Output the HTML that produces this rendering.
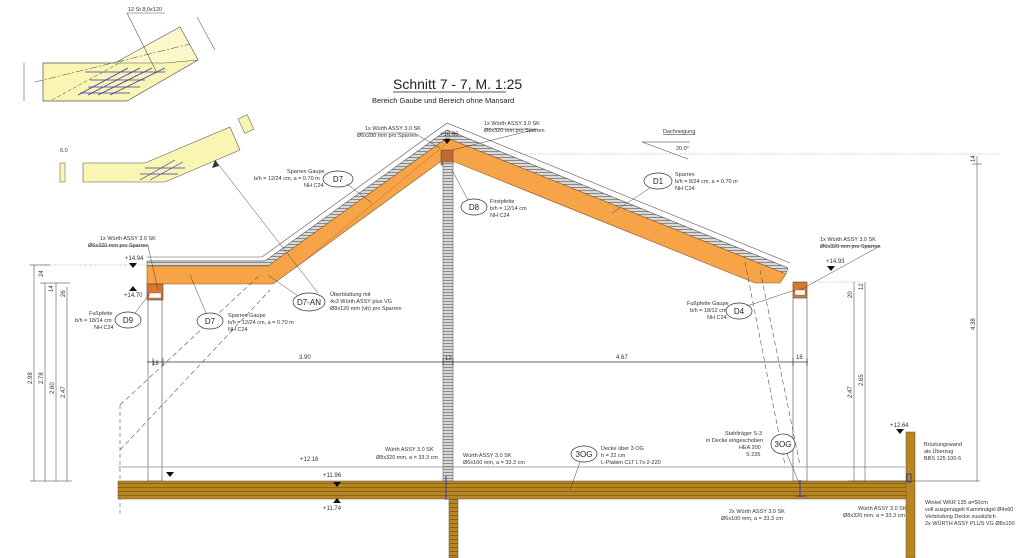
<!DOCTYPE html>
<html><head><meta charset="utf-8"><style>
html,body{margin:0;padding:0;background:#fff;}
svg{display:block;font-family:"Liberation Sans",sans-serif;}
.t{font-size:5.5px;fill:#333}
.d{font-size:6px;fill:#333}
</style></head><body>
<svg width="1024" height="558" viewBox="0 0 1024 558" xmlns="http://www.w3.org/2000/svg">
<defs>
<pattern id="hat" width="4" height="3" patternUnits="userSpaceOnUse"><rect width="4" height="3" fill="#d8d8d8"/><line x1="0" y1="1.5" x2="4" y2="1.5" stroke="#777" stroke-width="0.8"/></pattern>
<pattern id="wood" width="10" height="4" patternUnits="userSpaceOnUse"><rect width="10" height="4" fill="#b8861e"/><line x1="0" y1="3.5" x2="10" y2="3.5" stroke="#7a5510" stroke-width="0.7"/></pattern>
</defs>

<!-- top-left detail -->
<polygon points="43,63 115,63 180,27 198,60 127,101 43,101" fill="#fbf5b4" stroke="#555" stroke-width="0.7"/>
<polygon points="115,63 180,27 198,60 165,63" fill="#fdf8cc" stroke="#555" stroke-width="0.5"/>
<line x1="35" y1="82" x2="190" y2="44" stroke="#444" stroke-width="0.5" stroke-dasharray="8,2,2,2"/>
<line x1="52" y1="100" x2="123" y2="61" stroke="#444" stroke-width="0.5" stroke-dasharray="4,2"/>
<g stroke="#3a3aaa" stroke-width="0.8">
<line x1="78" y1="95" x2="128" y2="68"/><line x1="88" y1="95" x2="140" y2="68"/><line x1="98" y1="95" x2="152" y2="68"/><line x1="110" y1="95" x2="165" y2="68"/>
<line x1="85" y1="72" x2="165" y2="72"/><line x1="90" y1="80" x2="145" y2="80"/><line x1="88" y1="87" x2="140" y2="87"/><line x1="80" y1="93" x2="130" y2="93"/>
</g>
<line x1="127" y1="13" x2="165" y2="13" stroke="#555" stroke-width="0.6"/>
<line x1="127" y1="13" x2="157" y2="73" stroke="#555" stroke-width="0.6"/>
<text x="128" y="11" class="t" font-size="4">12 St 8,0x120</text>
<line x1="24" y1="63" x2="24" y2="101" stroke="#333" stroke-width="0.5"/>
<line x1="197" y1="17" x2="215" y2="50" stroke="#333" stroke-width="0.5"/>

<!-- second detail -->
<polygon points="83,163 145,163 230,127 240,150 165,182 83,182" fill="#fbf5b4" stroke="#555" stroke-width="0.6"/>
<g stroke="#3a3aaa" stroke-width="0.7"><line x1="140" y1="180" x2="175" y2="160"/><line x1="150" y1="180" x2="183" y2="162"/><line x1="145" y1="168" x2="185" y2="168"/><line x1="140" y1="174" x2="178" y2="174"/></g>
<rect x="60" y="163" width="5" height="19" fill="#fbf5b4" stroke="#555" stroke-width="0.5"/>
<rect x="241" y="116" width="10" height="16" fill="#fbf5b4" stroke="#555" stroke-width="0.5" transform="rotate(-25 246 124)"/>
<text x="60" y="152" class="t" font-size="4">6.0</text>

<!-- title -->
<text x="393" y="89" font-size="14" fill="#222">Schnitt 7 - 7, M. 1:25</text>
<line x1="393" y1="92" x2="506" y2="92" stroke="#222" stroke-width="0.7"/>
<text x="372" y="103" font-size="7.5" fill="#222">Bereich Gaube und Bereich ohne Mansard</text>

<!-- dotted levels -->
<line x1="455" y1="154" x2="1000" y2="154" stroke="#777" stroke-width="0.6" stroke-dasharray="1,1.5"/>
<line x1="30" y1="265" x2="147" y2="265" stroke="#777" stroke-width="0.6" stroke-dasharray="1,1.5"/>
<line x1="810" y1="282" x2="860" y2="282" stroke="#777" stroke-width="0.6" stroke-dasharray="1,1.5"/>

<!-- roof white outer layers -->
<polyline points="147,257 262,257 447,123 790,263" fill="none" stroke="#555" stroke-width="0.6"/>
<polyline points="147,261 265,261 447,130 788,268" fill="none" stroke="#555" stroke-width="0.6"/>
<!-- grey insulation -->
<polygon points="147,261 265,261 447,130 788,268 786,274 447,138 268,266 147,266" fill="url(#hat)" stroke="#555" stroke-width="0.5"/>
<!-- orange rafters -->
<polygon points="147,266 268,266 447,138 786,274 780,283 755,283 455,162 440,162 273,284 147,284" fill="#f7a348" stroke="#8a5a20" stroke-width="0.6"/>
<line x1="298" y1="266" x2="447" y2="143" stroke="#a0602a" stroke-width="0.4"/>

<!-- pfetten -->
<rect x="147" y="284" width="16" height="16" fill="#d9782c" stroke="#444" stroke-width="0.6"/>
<rect x="149" y="293" width="12" height="5" fill="#fff" stroke="#666" stroke-width="0.4"/>
<rect x="793" y="282" width="14" height="16" fill="#d9782c" stroke="#444" stroke-width="0.6"/>
<rect x="795" y="290" width="10" height="5" fill="#fff" stroke="#666" stroke-width="0.4"/>
<rect x="441" y="150" width="12" height="15" fill="#c06a30" stroke="#444" stroke-width="0.5"/>

<!-- central wall -->
<rect x="443" y="162" width="10" height="319" fill="url(#hat)" stroke="#666" stroke-width="0.6"/>
<rect x="449" y="498" width="9" height="60" fill="url(#wood)" stroke="#555" stroke-width="0.5"/>

<!-- posts -->
<rect x="148" y="300" width="14" height="181" fill="#fff" stroke="#666" stroke-width="0.7"/>
<rect x="793" y="298" width="14" height="183" fill="#fff" stroke="#666" stroke-width="0.7"/>

<!-- dashed lines -->
<g stroke="#555" stroke-width="0.6" stroke-dasharray="5,3" fill="none">
<line x1="120" y1="405" x2="260" y2="275"/><line x1="120" y1="450" x2="270" y2="290"/>
<line x1="745" y1="262" x2="785" y2="465"/><line x1="760" y1="270" x2="800" y2="465"/>
</g>
<line x1="120" y1="405" x2="120" y2="515" stroke="#555" stroke-width="0.6" stroke-dasharray="4,3"/>

<!-- floor -->
<line x1="118" y1="467" x2="905" y2="467" stroke="#888" stroke-width="0.8"/>
<rect x="118" y="481" width="789" height="18" fill="url(#wood)" stroke="#555" stroke-width="0.5"/>
<!-- parapet -->
<rect x="906" y="432" width="9" height="126" fill="#b8861e" stroke="#555" stroke-width="0.5"/>

<!-- dimension line -->
<line x1="147" y1="362" x2="808" y2="362" stroke="#333" stroke-width="0.7"/>
<g stroke="#333" stroke-width="0.6"><line x1="153" y1="358" x2="153" y2="366"/><line x1="163" y1="358" x2="163" y2="366"/><line x1="443" y1="358" x2="443" y2="366"/><line x1="453" y1="358" x2="453" y2="366"/><line x1="793" y1="358" x2="793" y2="366"/><line x1="807" y1="358" x2="807" y2="366"/></g>
<text x="299" y="359" class="d">3.90</text><text x="616" y="359" class="d">4.67</text>
<text x="152" y="365" class="d" font-size="5">18</text><text x="445" y="360" class="d" font-size="5">12</text><text x="796" y="359" class="d" font-size="5">18</text>

<!-- left vertical dims -->
<g stroke="#333" stroke-width="0.5">
<line x1="34" y1="265" x2="34" y2="481"/><line x1="45" y1="283" x2="45" y2="481"/><line x1="56" y1="283" x2="56" y2="481"/><line x1="67" y1="287" x2="67" y2="481"/>
<line x1="30" y1="481" x2="72" y2="481"/><line x1="30" y1="265" x2="50" y2="265"/><line x1="40" y1="283" x2="70" y2="283"/>
</g>
<g class="d" font-size="5">
<text transform="translate(32 384) rotate(-90)">2.98</text><text transform="translate(43 384) rotate(-90)">2.78</text>
<text transform="translate(54 394) rotate(-90)">2.60</text><text transform="translate(65 398) rotate(-90)">2.47</text>
<text transform="translate(43 277) rotate(-90)">24</text><text transform="translate(53 292) rotate(-90)">14</text><text transform="translate(65 297) rotate(-90)">26</text>
</g>

<!-- right vertical dims -->
<g stroke="#333" stroke-width="0.5">
<line x1="977" y1="156" x2="977" y2="481"/><line x1="972" y1="164" x2="982" y2="164"/>
<line x1="854" y1="282" x2="854" y2="481"/><line x1="865" y1="282" x2="865" y2="481"/><line x1="848" y1="481" x2="980" y2="481"/>
</g>
<g class="d" font-size="5">
<text transform="translate(975 330) rotate(-90)">4.38</text><text transform="translate(975 162) rotate(-90)">14</text>
<text transform="translate(852 398) rotate(-90)">2.47</text><text transform="translate(863 386) rotate(-90)">2.65</text>
<text transform="translate(852 298) rotate(-90)">20</text><text transform="translate(863 290) rotate(-90)">12</text>
</g>

<!-- level markers -->
<g fill="#111">
<polygon points="129,263 137,263 133,268"/><polygon points="129,291 137,291 133,286"/>
<polygon points="443,139 451,139 447,144"/>
<polygon points="827,266 835,266 831,271"/>
<polygon points="166,472 174,472 170,477"/>
<polygon points="333,482 341,482 337,487"/><polygon points="333,503 341,503 337,498"/>
<polygon points="896,429 904,429 900,434"/>
</g>
<g class="d" font-size="5.5">
<text x="125" y="260">+14.94</text><text x="124" y="297">+14.70</text>
<text x="440" y="136">+16.66</text><text x="826" y="263">+14.93</text>
<text x="300" y="461">+12.16</text><text x="323" y="477">+11.96</text><text x="323" y="510">+11.74</text>
<text x="890" y="427">+12.64</text>
</g>

<!-- dachneigung -->
<text x="663" y="133" class="t" text-decoration="underline">Dachneigung</text>
<line x1="642" y1="142" x2="690" y2="142" stroke="#333" stroke-width="0.5"/>
<line x1="642" y1="142" x2="688" y2="159" stroke="#333" stroke-width="0.5"/>
<text x="676" y="150" class="t">20.0°</text>

<!-- ellipse labels -->
<g fill="#fff" stroke="#333" stroke-width="0.7">
<ellipse cx="338" cy="179" rx="15" ry="8"/><ellipse cx="474" cy="207" rx="13" ry="8"/>
<ellipse cx="658" cy="181" rx="14" ry="8"/><ellipse cx="309" cy="302" rx="16" ry="9"/>
<ellipse cx="210" cy="321" rx="13" ry="8"/><ellipse cx="128" cy="320" rx="13" ry="8"/>
<ellipse cx="739" cy="311" rx="13" ry="8"/><ellipse cx="584" cy="454" rx="13" ry="8"/>
<ellipse cx="783" cy="444" rx="12" ry="10"/>
</g>
<g font-size="8" fill="#222" text-anchor="middle">
<text x="338" y="182">D7</text><text x="474" y="210">D8</text><text x="658" y="184">D1</text>
<text x="309" y="305">D7-AN</text><text x="210" y="324">D7</text><text x="128" y="323">D9</text>
<text x="739" y="314">D4</text><text x="584" y="457">3OG</text><text x="783" y="447">3OG</text>
</g>
<!-- leader lines -->
<g stroke="#444" stroke-width="0.5" fill="none">
<line x1="347" y1="184" x2="372" y2="203"/><line x1="468" y1="200" x2="452" y2="170"/>
<line x1="650" y1="188" x2="612" y2="213"/><line x1="298" y1="296" x2="268" y2="275"/>
<line x1="206" y1="313" x2="190" y2="275"/><line x1="135" y1="313" x2="150" y2="293"/>
<line x1="747" y1="306" x2="795" y2="290"/><line x1="580" y1="462" x2="570" y2="490"/>
<line x1="318" y1="293" x2="215" y2="160"/>
<polyline points="88,246 148,246 158,290"/><polyline points="357,133 414,133 440,148"/>
<polyline points="484,129 537,129 452,150"/><polyline points="820,246 880,246 800,290"/>
<line x1="787" y1="454" x2="800" y2="485"/>
</g>
<polygon points="215,160 212,168 219,166" fill="#333"/>

<!-- text labels -->
<g class="t">
<text x="100" y="240">1x Würth ASSY 3.0 SK</text><text x="88" y="247">Ø6x320 mm pro Sparren</text>
<text x="365" y="130">1x Würth ASSY 3.0 SK</text><text x="357" y="137">Ø6x280 mm pro Sparren</text>
<text x="484" y="125">1x Würth ASSY 3.0 SK</text><text x="484" y="132">Ø6x320 mm pro Sparren</text>
<text x="287" y="173">Sparren Gaupe</text><text x="254" y="180">b/h = 12/24 cm, a = 0.70 m</text><text x="304" y="187">NH C24</text>
<text x="490" y="203">Firstpfette</text><text x="490" y="210">b/h = 12/14 cm</text><text x="490" y="217">NH C24</text>
<text x="675" y="176">Sparren</text><text x="675" y="183">b/h = 8/24 cm, a = 0.70 m</text><text x="675" y="190">NH C24</text>
<text x="330" y="296">Überblattung mit</text><text x="330" y="303">4x3 Würth ASSY plus VG</text><text x="330" y="310">Ø8x120 mm (vb) pro Sparren</text>
<text x="228" y="317">Sparren Gaupe</text><text x="228" y="324">b/h = 12/24 cm, a = 0.70 m</text><text x="228" y="331">NH C24</text>
<text x="89" y="315">Fußpfette</text><text x="75" y="322">b/h = 18/14 cm</text><text x="94" y="329">NH C24</text>
<text x="820" y="241">1x Würth ASSY 3.0 SK</text><text x="820" y="248">Ø6x320 mm pro Sparren</text>
<text x="687" y="305">Fußpfette Gaupe</text><text x="690" y="312">b/h = 18/12 cm</text><text x="707" y="319">NH C24</text>
<text x="385" y="451">Würth ASSY 3.0 SK</text><text x="376" y="459">Ø8x320 mm, a = 33.3 cm</text>
<text x="463" y="457">Würth ASSY 3.0 SK</text><text x="463" y="464">Ø6x160 mm, a = 33.3 cm</text>
<text x="601" y="450">Decke über 3 OG</text><text x="601" y="457">h = 22 cm</text><text x="601" y="464">L-Platten CLT L7s-2-220</text>
<text x="725" y="435">Stahlträger S-3</text><text x="706" y="442">in Decke eingeschoben</text><text x="739" y="449">HEA 200</text><text x="746" y="456">S 235</text>
<text x="729" y="513">2x Würth ASSY 3.0 SK</text><text x="721" y="520">Ø6x100 mm, a = 33.3 cm</text>
<text x="858" y="510">Würth ASSY 3.0 SK</text><text x="843" y="517">Ø8x320 mm, a = 33.3 cm</text>
<text x="924" y="446">Brüstungswand</text><text x="924" y="453">als Überzug</text><text x="924" y="460">BBS 125 100-5</text>
<text x="925" y="504">Winkel WKR 135 a=50cm</text><text x="925" y="511">voll ausgenagelt Kammnägel Ø4x60</text>
<text x="925" y="518">Verbindung Decke zusätzlich</text><text x="925" y="525">2x WÜRTH ASSY PLUS VG Ø8x100</text>
</g>
<g stroke="#3a3aaa" stroke-width="1" fill="none">
<line x1="446" y1="476" x2="446" y2="500"/><line x1="800" y1="480" x2="800" y2="497"/><line x1="796" y1="496" x2="806" y2="496"/>
<rect x="907" y="474" width="4" height="8"/>
</g>
</svg>
</body></html>
